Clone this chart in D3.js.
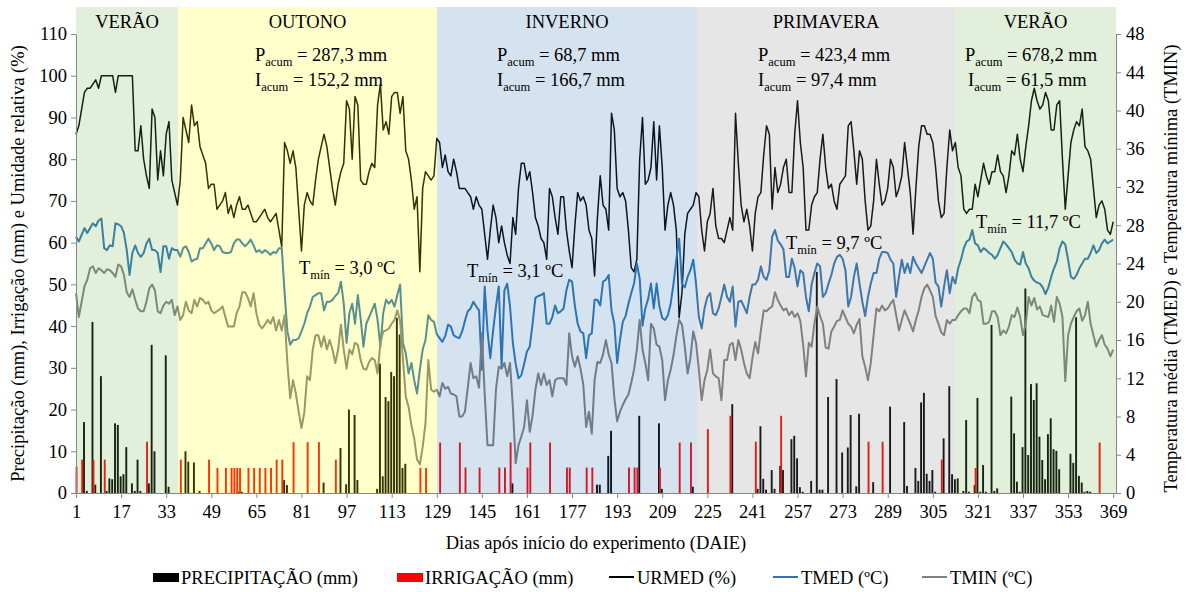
<!DOCTYPE html>
<html>
<head>
<meta charset="utf-8">
<script src="https://cdn.jsdelivr.net/npm/d3@7"></script>
<style>
  body { margin: 0; background: #fff; }
  text { font-family: "Liberation Serif", "Times New Roman", serif; fill: #000; }
</style>
</head>
<body>
<svg id="chart" width="1187" height="592"></svg>
<script>
// ---- data (one value per day, DAIE 1..369) ----
const urmed = [
  86, 88, 92, 96, 97, 97, 98, 99, 97, 100,
  100, 100, 100, 100, 96, 100, 100, 100, 100, 100,
  100, 82, 82, 88, 80, 76, 73, 92, 90, 75,
  82, 76, 86, 89, 75, 72, 69, 75, 90, 87,
  84, 93, 88, 89, 83, 81, 79, 73, 74, 74,
  68, 69, 70, 72, 67, 69, 66, 69, 71, 68,
  68, 69, 67, 65, 65, 66, 67, 68, 66, 65,
  66, 67, 63, 59, 84, 82, 79, 82, 78, 68,
  58, 69, 72, 70, 69, 75, 80, 83, 86, 83,
  78, 73, 69, 74, 77, 79, 94, 92, 80, 95,
  93, 75, 74, 74, 77, 79, 78, 93, 98, 87,
  89, 86, 95, 96, 96, 91, 95, 82, 80, 75,
  68, 71, 53, 73, 77, 76, 75, 76, 85, 84,
  78, 81, 77, 76, 80, 77, 73, 73, 73, 72,
  71, 68, 71, 69, 68, 62, 56, 63, 69, 66,
  60, 64, 60, 57, 55, 66, 62, 73, 79, 79,
  75, 77, 72, 66, 64, 61, 60, 56, 73, 71,
  66, 62, 71, 71, 63, 58, 54, 64, 72, 70,
  71, 69, 63, 61, 52, 66, 76, 69, 68, 63,
  91, 87, 73, 71, 72, 70, 63, 54, 53, 56,
  80, 90, 74, 75, 78, 89, 75, 88, 78, 63,
  69, 72, 69, 63, 42, 48, 62, 67, 68, 69,
  72, 71, 63, 58, 65, 67, 73, 64, 61, 61,
  60, 63, 66, 63, 91, 79, 69, 65, 68, 64,
  58, 67, 71, 72, 81, 88, 86, 68, 78, 72,
  74, 78, 80, 72, 72, 86, 94, 84, 78, 63,
  63, 69, 71, 72, 80, 86, 78, 73, 74, 70,
  68, 74, 75, 76, 88, 89, 82, 74, 82, 80,
  70, 63, 64, 70, 80, 74, 69, 70, 73, 80,
  78, 71, 73, 76, 84, 78, 72, 62, 73, 83,
  88, 88, 86, 86, 84, 78, 70, 66, 67, 78,
  87, 82, 84, 78, 76, 68, 67, 68, 68, 74,
  71, 75, 79, 76, 74, 77, 77, 81, 77, 76,
  72, 76, 82, 81, 86, 80, 77, 83, 88, 94,
  97, 94, 92, 93, 96, 94, 87, 87, 93, 94,
  80, 68, 76, 84, 87, 89, 88, 92, 83, 82,
  80, 73, 66, 69, 70, 68, 63, 62, 65
];

const tmed = [
  26.8, 26.3, 27.0, 27.7, 27.2, 27.7, 28.2, 27.9, 28.5, 28.7,
  25.6, 25.4, 25.9, 25.8, 28.2, 28.1, 27.9, 27.2, 25.4, 22.8,
  25.1, 25.9, 25.1, 24.7, 25.1, 26.1, 26.6, 25.4, 25.4, 25.1,
  23.1, 25.8, 25.8, 24.5, 25.6, 25.4, 25.4, 24.7, 25.6, 25.8,
  25.2, 24.2, 24.4, 24.5, 25.6, 25.6, 26.1, 26.6, 26.1, 25.4,
  25.9, 25.8, 25.2, 25.1, 25.1, 25.2, 26.1, 26.5, 26.5, 26.1,
  25.8, 26.1, 26.5, 25.9, 25.2, 25.4, 25.1, 25.4, 25.2, 24.9,
  25.2, 25.1, 25.6, 25.6, 21.0, 16.9, 15.5, 16.0, 16.0, 16.2,
  16.9, 17.7, 18.8, 19.5, 20.5, 20.7, 20.9, 20.9, 19.1, 20.0,
  20.0, 20.2, 20.6, 20.9, 22.1, 19.8, 15.7, 18.8, 19.8, 17.7,
  20.7, 18.2, 15.3, 17.7, 18.4, 19.1, 19.8, 18.1, 15.3, 18.8,
  20.2, 19.8, 20.2, 19.5, 20.7, 21.8, 15.7, 14.6, 12.5, 13.6,
  11.8, 10.4, 12.9, 15.0, 16.0, 18.6, 18.1, 17.9, 16.6, 16.2,
  15.8, 16.4, 17.6, 17.4, 16.5, 16.3, 16.2, 16.9, 18.0, 19.0,
  19.3, 20.0, 19.5, 19.1, 12.9, 21.6, 17.0, 14.1, 17.0, 19.5,
  21.6, 13.2, 21.2, 21.9, 19.5, 15.7, 13.5, 12.0, 12.3, 13.5,
  14.8, 15.3, 17.7, 20.4, 20.6, 20.7, 20.9, 17.7, 17.7, 18.4,
  19.6, 18.8, 19.0, 19.3, 21.2, 22.3, 22.1, 19.6, 17.7, 16.9,
  16.7, 14.1, 16.5, 16.7, 20.2, 20.2, 19.6, 22.1, 22.3, 22.8,
  19.1, 17.7, 13.6, 16.0, 17.9, 18.5, 19.8, 20.9, 21.9, 24.0,
  22.4, 17.5, 19.3, 20.3, 21.9, 19.3, 21.9, 19.5, 18.3, 18.1,
  18.6, 19.8, 21.9, 24.4, 26.6, 21.9, 21.5, 22.6, 23.3, 24.4,
  21.9, 18.4, 17.2, 19.3, 20.5, 20.9, 18.8, 18.6, 19.3, 20.5,
  21.8, 20.5, 20.0, 21.6, 17.4, 20.0, 20.1, 19.5, 18.8, 20.5,
  21.8, 21.8, 22.3, 23.7, 22.6, 22.3, 23.3, 26.8, 27.5, 26.4,
  26.0, 25.5, 22.6, 22.6, 24.5, 23.5, 21.6, 23.3, 23.0, 20.5,
  19.0, 21.8, 23.0, 24.0, 23.7, 20.5, 20.9, 21.9, 22.8, 24.0,
  24.7, 24.9, 24.5, 23.3, 19.5, 20.5, 22.6, 24.0, 21.9, 20.0,
  18.5, 20.5, 21.9, 23.0, 23.0, 24.5, 25.2, 25.2, 25.1, 24.4,
  24.0, 20.5, 22.6, 24.4, 23.0, 24.0, 23.0, 24.7, 24.0, 23.5,
  23.0, 23.7, 24.4, 25.1, 24.5, 22.0, 21.6, 19.5, 21.6, 23.3,
  20.9, 22.6, 21.9, 23.5, 24.4, 25.6, 26.3, 26.5, 27.5, 26.1,
  25.9, 25.2, 25.6, 25.4, 25.1, 24.9, 24.5, 24.9, 25.6, 26.3,
  26.0, 25.6, 25.2, 24.4, 24.0, 23.9, 25.2, 24.0, 23.5, 22.6,
  22.2, 22.0, 21.9, 21.5, 20.8, 21.5, 22.6, 23.5, 24.2, 25.6,
  26.3, 26.0, 24.4, 22.6, 22.4, 22.8, 23.5, 24.0, 24.5, 24.5,
  25.1, 25.9, 25.1, 25.4, 26.1, 26.5, 26.1, 26.3, 26.5
];

const tmin = [
  20.9, 18.4, 20.0, 21.6, 22.3, 23.5, 23.7, 23.0, 23.5, 23.3,
  23.0, 23.4, 23.3, 23.0, 22.6, 23.9, 23.7, 22.8, 21.0, 20.5,
  21.3, 20.2, 19.3, 19.0, 19.0, 20.0, 21.4, 21.8, 21.2, 19.0,
  18.8, 19.6, 20.0, 19.8, 20.2, 18.6, 19.5, 18.1, 18.6, 20.0,
  19.1, 18.8, 20.2, 19.5, 20.4, 20.2, 19.8, 20.0, 19.1, 18.8,
  19.0, 19.2, 19.5, 18.4, 17.4, 17.4, 17.4, 18.8, 19.5, 21.0,
  21.0, 20.4, 19.5, 20.9, 18.8, 17.6, 17.2, 17.6, 18.1, 17.7,
  18.4, 17.0, 18.1, 17.0, 18.6, 13.6, 9.9, 11.8, 10.4, 8.5,
  6.8, 8.4, 12.2, 11.8, 15.0, 16.5, 16.5, 15.3, 16.4, 15.0,
  16.0, 15.0, 13.6, 15.0, 17.6, 15.0, 13.0, 15.0, 14.5, 15.7,
  15.5, 13.9, 13.0, 12.9, 13.7, 14.1, 13.9, 12.5, 15.7, 16.9,
  17.0, 17.2, 17.7, 18.1, 19.1, 18.0, 14.0, 10.1, 9.0, 7.1,
  5.7, 3.5, 3.0, 4.8, 7.3, 13.9, 10.8, 10.6, 10.8, 10.1,
  11.5, 10.9, 11.1, 10.4, 10.3, 10.1, 8.0, 8.0, 8.5, 11.0,
  13.6, 12.0, 12.2, 11.0, 16.7, 10.4, 5.0, 5.0, 5.0, 10.8,
  13.2, 13.0, 13.6, 12.2, 13.6, 9.0, 3.1, 5.0, 5.9, 6.9,
  9.7, 6.4, 8.1, 10.8, 12.5, 11.3, 12.5, 11.3, 11.8, 10.1,
  11.8, 12.0, 12.0, 12.0, 11.3, 16.7, 14.3, 13.2, 14.3, 13.0,
  11.3, 6.9, 8.5, 6.2, 11.8, 13.7, 13.6, 14.5, 16.0, 14.5,
  13.6, 10.0, 7.5, 8.5, 9.2, 9.8, 10.3, 11.5, 12.9, 15.0,
  18.1, 15.0, 13.6, 11.8, 17.7, 17.2, 15.5, 15.3, 13.9, 9.7,
  11.8, 12.9, 14.4, 16.4, 18.1, 17.6, 15.3, 12.5, 14.1, 16.9,
  15.7, 12.9, 9.7, 11.8, 12.9, 15.0, 12.5, 12.2, 12.0, 9.7,
  13.9, 13.9, 15.5, 15.7, 13.9, 16.0, 15.0, 13.6, 12.5, 12.0,
  14.1, 15.8, 14.6, 17.0, 19.1, 19.0, 19.3, 19.5, 21.0, 20.2,
  19.6, 19.1, 19.3, 18.6, 19.0, 18.4, 18.8, 18.0, 15.5, 12.2,
  15.7, 15.3, 17.7, 19.5, 18.5, 17.7, 15.2, 15.1, 16.9, 17.4,
  18.0, 18.1, 19.1, 18.4, 17.7, 17.4, 16.7, 17.6, 18.2, 14.3,
  13.2, 11.8, 13.6, 16.5, 19.3, 19.0, 19.6, 19.1, 19.3, 19.8,
  20.2, 18.6, 17.0, 18.1, 19.1, 18.4, 17.7, 16.9, 18.1, 19.1,
  20.5, 21.4, 21.8, 21.2, 20.5, 18.5, 17.7, 16.8, 16.5, 18.1,
  17.7, 18.1, 18.1, 18.6, 19.0, 19.3, 19.3, 18.8, 20.5, 20.9,
  20.2, 20.0, 17.7, 17.7, 17.9, 19.0, 19.0, 18.4, 16.5, 17.0,
  16.7, 17.4, 18.6, 18.4, 19.4, 18.4, 16.5, 17.7, 20.5, 19.6,
  20.4, 19.2, 19.5, 18.6, 18.5, 18.4, 19.6, 17.9, 20.5, 19.8,
  18.4, 11.7, 16.5, 17.7, 18.4, 19.0, 19.3, 18.0, 18.6, 20.0,
  17.7, 16.5, 15.3, 16.0, 16.5, 15.5, 15.1, 14.3, 15.0
];

// [day, mm]
const precipitacao = [
  [4, 17], [5, 0.5], [7, 41], [8, 2], [10, 28], [12, 0.5], [13, 3.5], [14, 3.3], [15, 16.7], [16, 16.3],
  [17, 4], [18, 4.5], [19, 11], [21, 2.3], [22, 0.5], [23, 8], [24, 0.5], [27, 2.3], [28, 35.5], [29, 10],
  [33, 33], [34, 1.5],
  [40, 10], [41, 7.5], [43, 7.3], [45, 0.5], [59, 0.3], [60, 0.3], [75, 3.1], [76, 1.9], [89, 2.5], [95, 10.8],
  [97, 2.1], [98, 20], [100, 18.7], [101, 3.1],
  [108, 1], [109, 31], [110, 4], [111, 23], [112, 22], [113, 29], [114, 28], [115, 42], [116, 38], [117, 6], [118, 7],
  [156, 2.3], [186, 2], [187, 2], [190, 8.9], [191, 14.9], [201, 18.5], [208, 16.7], [209, 1], [220, 1.5],
  [234, 21.3], [243, 1], [244, 16], [245, 3.4], [246, 0.8], [248, 5.5], [249, 1], [251, 6.5], [252, 5.5],
  [255, 12.9], [256, 13.7], [257, 8.3], [258, 1.4], [259, 0.3], [262, 2.9], [264, 53], [265, 0.8], [266, 0.8],
  [268, 23], [271, 27.3], [273, 9.7], [275, 10.9], [276, 18.7], [278, 1.6], [279, 19], [284, 2.6], [290, 20.7],
  [295, 17], [296, 1.7], [299, 6], [300, 2.9], [301, 21.7], [302, 24], [303, 4.6], [304, 2.9], [305, 5.5],
  [306, 0.3], [309, 13.1], [311, 25.6], [312, 4.5],
  [313, 3.3], [314, 3.5], [316, 0.5], [317, 17.5], [318, 0.3], [320, 1.9], [321, 22.8], [322, 0.3], [323, 6.7],
  [324, 0.3], [326, 40.3], [327, 0.5], [328, 1.1], [333, 23.1], [334, 14.3], [335, 2.7], [336, 0.3], [337, 11],
  [338, 49], [339, 9.1], [340, 26.1], [341, 22.3], [342, 26.3], [343, 13.5], [344, 7.9], [345, 3.3], [346, 14.1],
  [347, 17.9], [348, 10.5], [349, 10.1], [350, 5.7], [354, 9.4], [355, 7.2], [356, 42.1], [357, 4.1], [358, 2.5],
  [359, 0.3], [360, 0.5], [361, 0.3]
];

const irrigacao = [
  [1, 6.3], [3, 8], [7, 8], [11, 8], [26, 12.3],
  [38, 8], [48, 8], [51, 6], [54, 6], [56, 6], [57, 6], [58, 6], [59, 6], [62, 6], [64, 6], [66, 6], [68, 6],
  [70, 6], [72, 8], [74, 8], [78, 12.2], [83, 12.2], [87, 12.2], [93, 8], [123, 6], [125, 6],
  [130, 12.1], [137, 12.1], [139, 6.1], [144, 6.1], [151, 6.1], [153, 6.1], [155, 12.1], [161, 6.1], [162, 12.1],
  [169, 12.1], [175, 6.1], [176, 6.1], [182, 6.1], [184, 6.1], [197, 6.1], [199, 6.1], [200, 6.1], [208, 6.1],
  [215, 12.1], [219, 12.1],
  [225, 15.3], [233, 18.5], [242, 12.3], [251, 18.5], [282, 12.3], [287, 12.3], [308, 8],
  [320, 6], [364, 12.1]
];

const seasonNames = ['VERÃO', 'OUTONO', 'INVERNO', 'PRIMAVERA', 'VERÃO'];
const seasonStart = [1, 37.2, 129.1, 221.4, 312.9];
const seasonEnd = [37.2, 129.1, 221.4, 312.9, 370];
const seasonP = [null, '287,3', '68,7', '423,4', '678,2'];
const seasonI = [null, '152,2', '166,7', '97,4', '61,5'];
const seasonTmin = [null, '3,0', '3,1', '9,7', '11,7'];

const xTicks = d3.range(1, 370, 16);
const yLeftTicks = d3.range(0, 111, 10);
const yRightTicks = d3.range(0, 49, 4);

const legendItems = ['PRECIPITAÇÃO (mm)', 'IRRIGAÇÃO (mm)', 'URMED (%)', 'TMED (ºC)', 'TMIN (ºC)'];

// ---- layout ----
const svg = d3.select('#chart');
const plot = { left: 76, right: 1116, top: 34, bottom: 493 };
const seasonFill = ['rgb(112,173,71)', 'rgb(255,255,0)', 'rgb(46,117,182)', 'rgb(128,128,128)', 'rgb(112,173,71)'];
const annoLayout = [
  null,
  { px: 255, py: 61, tx: 299, ty: 274 },
  { px: 497, py: 61, tx: 467, ty: 277 },
  { px: 758, py: 61, tx: 786, ty: 249 },
  { px: 965, py: 61, tx: 976, ty: 228 }
];
const fontSize = 18.5;

const x = d3.scaleLinear().domain([1, 370]).range([plot.left, plot.right]);
const yL = d3.scaleLinear().domain([0, 110]).range([plot.bottom, plot.top]);
const yR = d3.scaleLinear().domain([0, 48]).range([plot.bottom, plot.top]);

svg.append('rect').attr('width', 1187).attr('height', 592).attr('fill', '#fff');

// bars
const gBars = svg.append('g');
gBars.selectAll('.precip')
  .data(precipitacao)
  .enter().append('rect')
  .attr('class', 'precip')
  .attr('x', d => x(d[0]) - 1.4)
  .attr('width', 1.9)
  .attr('y', d => yL(d[1]))
  .attr('height', d => yL(0) - yL(d[1]))
  .attr('fill', '#000');

gBars.selectAll('.irrig')
  .data(irrigacao)
  .enter().append('rect')
  .attr('class', 'irrig')
  .attr('x', d => x(d[0]) - 0.4)
  .attr('width', 1.9)
  .attr('y', d => yL(d[1]))
  .attr('height', d => yL(0) - yL(d[1]))
  .attr('fill', '#ff0000');

// lines
const lineL = d3.line().x((d, i) => x(i + 1)).y(d => yL(d));
const lineR = d3.line().x((d, i) => x(i + 1)).y(d => yR(d));

svg.append('path').datum(urmed).attr('d', lineL)
  .attr('fill', 'none').attr('stroke', '#000').attr('stroke-width', 1.5).attr('stroke-linejoin', 'round');
svg.append('path').datum(tmed).attr('d', lineR)
  .attr('fill', 'none').attr('stroke', '#2e75b6').attr('stroke-width', 2).attr('stroke-linejoin', 'round');
svg.append('path').datum(tmin).attr('d', lineR)
  .attr('fill', 'none').attr('stroke', '#808080').attr('stroke-width', 2).attr('stroke-linejoin', 'round');

// season shading laid over the data, as in the original
svg.append('g').selectAll('rect')
  .data(seasonNames)
  .enter().append('rect')
  .attr('x', (d, i) => x(seasonStart[i]))
  .attr('width', (d, i) => x(seasonEnd[i]) - x(seasonStart[i]))
  .attr('y', 7)
  .attr('height', plot.bottom - 7)
  .attr('fill', (d, i) => seasonFill[i])
  .attr('fill-opacity', 0.2);

// axes
function styleAxis(g) {
  g.selectAll('path').attr('stroke', '#868686');
  g.selectAll('line').attr('stroke', '#868686');
  g.selectAll('text').attr('font-size', fontSize).attr('fill', '#000')
    .style('font-family', '"Liberation Serif", "Times New Roman", serif');
}

svg.append('g')
  .attr('transform', `translate(${plot.left}, 0)`)
  .call(d3.axisLeft(yL).tickValues(yLeftTicks).tickSize(5).tickSizeOuter(0).tickPadding(4))
  .call(styleAxis);

svg.append('g')
  .attr('transform', `translate(${plot.right}, 0)`)
  .call(d3.axisRight(yR).tickValues(yRightTicks).tickSize(5).tickSizeOuter(0).tickPadding(5))
  .call(styleAxis);

svg.append('g')
  .attr('transform', `translate(0, ${plot.bottom})`)
  .call(d3.axisBottom(x).tickValues(xTicks).tickFormat(d3.format('d')).tickSize(5).tickSizeOuter(0).tickPadding(7))
  .call(styleAxis);

// axis titles
svg.append('text')
  .attr('transform', `translate(24, ${(plot.top + plot.bottom) / 2}) rotate(-90)`)
  .attr('text-anchor', 'middle').attr('font-size', fontSize)
  .text('Precipitação (mm), Irrigação (mm) e Umidade relativa (%)');

svg.append('text')
  .attr('transform', `translate(1177, ${(plot.top + plot.bottom) / 2 + 5}) rotate(-90)`)
  .attr('text-anchor', 'middle').attr('font-size', fontSize)
  .text('Temperatura média (TMED) e Temperatura mínima (TMIN)');

svg.append('text')
  .attr('x', 596).attr('y', 549)
  .attr('text-anchor', 'middle').attr('font-size', fontSize)
  .text('Dias após início do experimento (DAIE)');

// season labels
svg.append('g').selectAll('text')
  .data(seasonNames)
  .enter().append('text')
  .attr('x', (d, i) => (x(seasonStart[i]) + x(seasonEnd[i])) / 2)
  .attr('y', 28)
  .attr('text-anchor', 'middle')
  .attr('font-size', fontSize)
  .text(d => d);

// accumulated P / I and minimum temperature notes
function subText(g, xPos, yPos, main, sub, rest) {
  const t = g.append('text').attr('x', xPos).attr('y', yPos).attr('font-size', fontSize);
  t.append('tspan').text(main);
  t.append('tspan').attr('font-size', 12.5).attr('dy', 5).text(sub);
  t.append('tspan').attr('dy', -5).text(rest);
}

const gAnno = svg.append('g');
seasonNames.forEach((s, i) => {
  const a = annoLayout[i];
  if (!a) return;
  subText(gAnno, a.px, a.py, 'P', 'acum', ` = ${seasonP[i]} mm`);
  subText(gAnno, a.px + (i === 4 ? 3 : 0), a.py + 25, 'I', 'acum', ` = ${seasonI[i]} mm`);
  subText(gAnno, a.tx, a.ty, 'T', 'mín', ` = ${seasonTmin[i]} ºC`);
});

// legend
const legend = svg.append('g').attr('transform', 'translate(0, 578)');
const legX = [153, 397, 609, 773, 922];
const legColor = ['#000', '#ff0000', '#000', '#2e75b6', '#808080'];
legendItems.forEach((name, i) => {
  if (i < 2) {
    legend.append('rect').attr('x', legX[i]).attr('y', -5).attr('width', 26).attr('height', 9).attr('fill', legColor[i]);
  } else {
    legend.append('line').attr('x1', legX[i]).attr('x2', legX[i] + 25).attr('y1', -1).attr('y2', -1)
      .attr('stroke', legColor[i]).attr('stroke-width', 2);
  }
  legend.append('text').attr('x', legX[i] + 28).attr('y', 6).attr('font-size', fontSize).text(name);
});
</script>
</body>
</html>
